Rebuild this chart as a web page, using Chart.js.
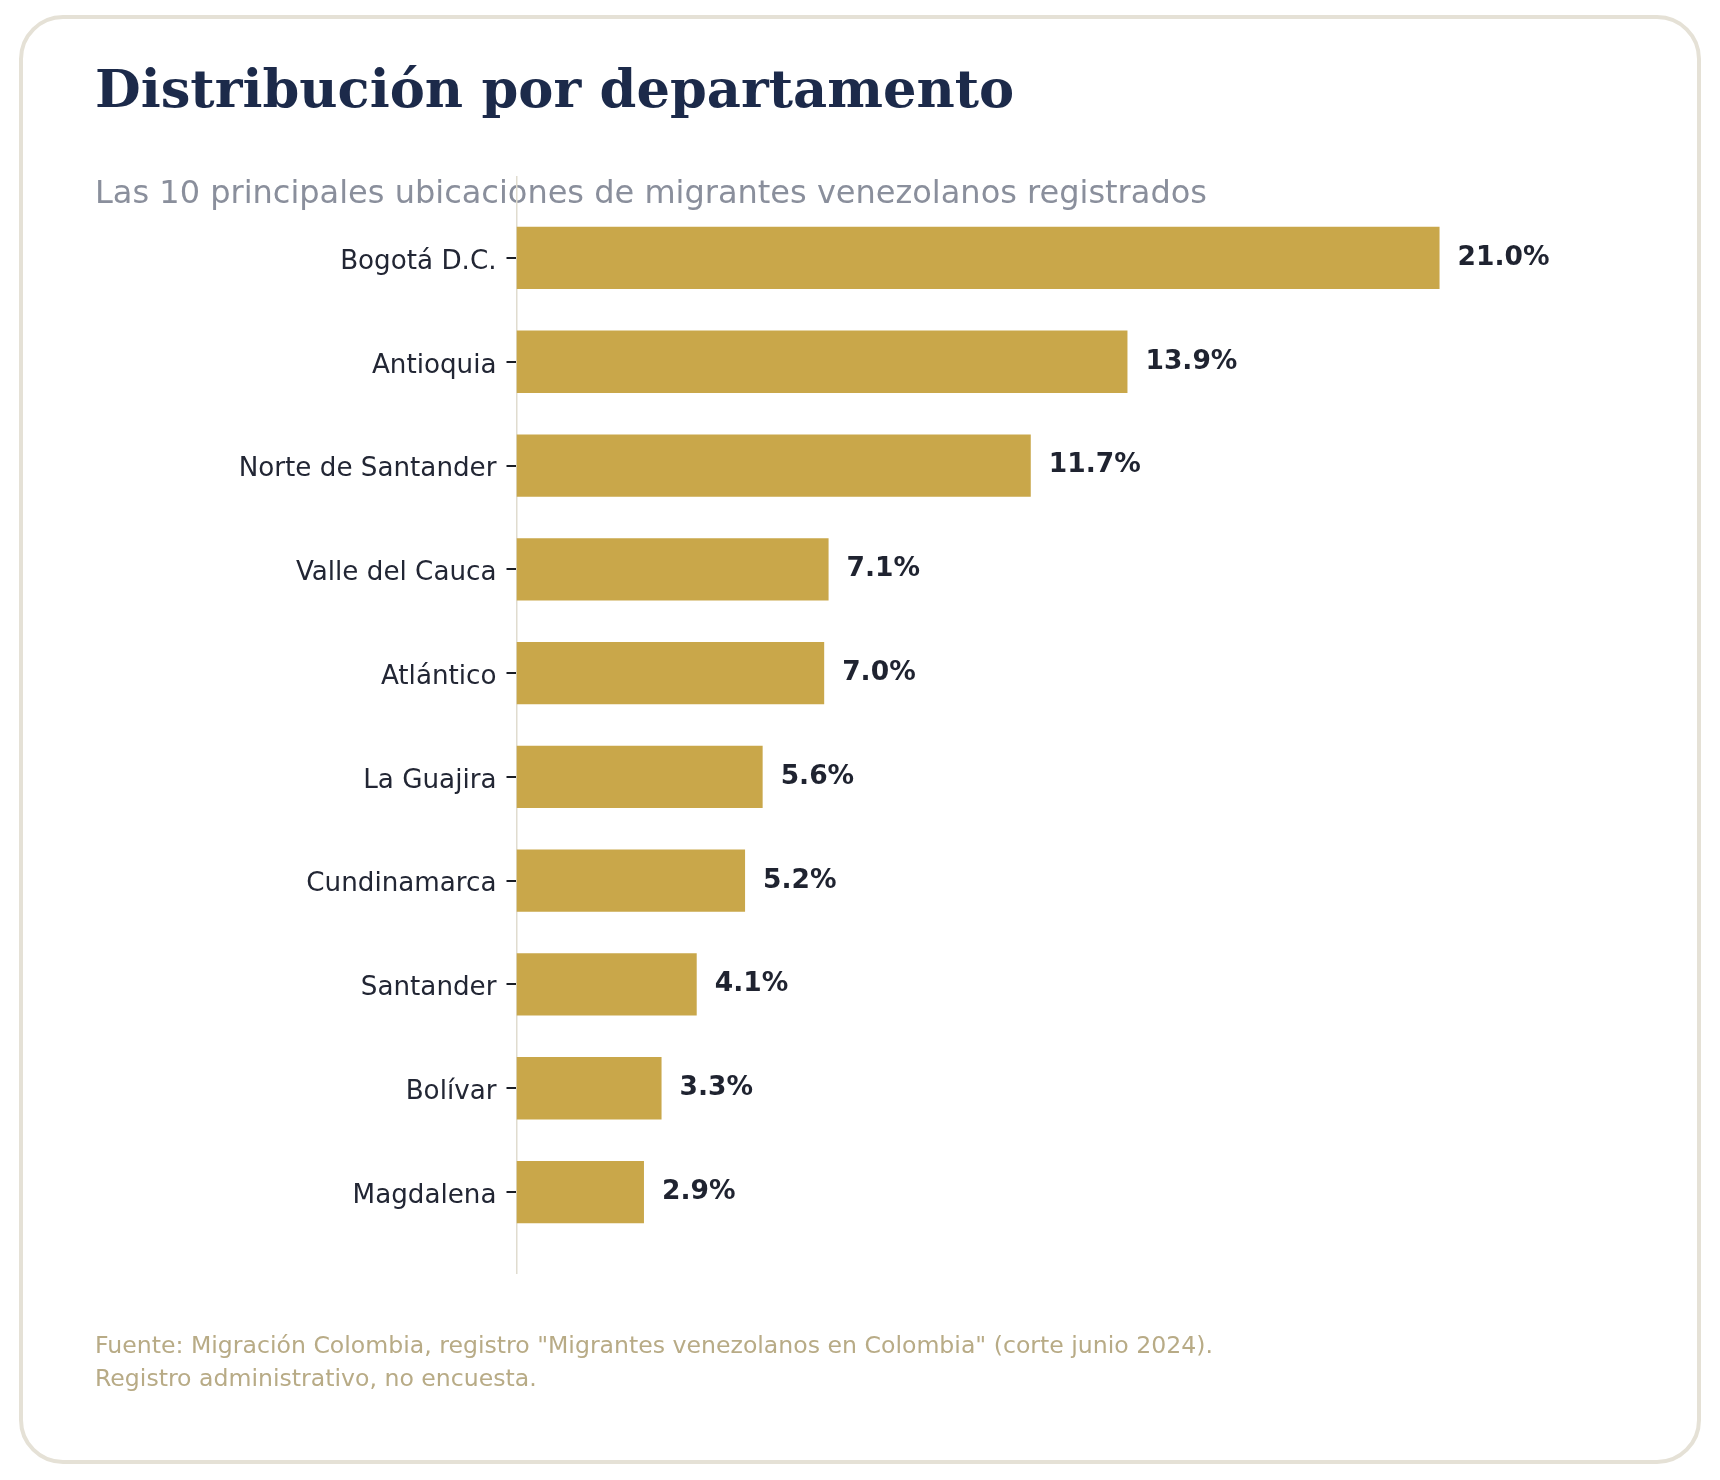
<!DOCTYPE html>
<html>
<head>
<meta charset="utf-8">
<script src="https://cdn.jsdelivr.net/npm/chart.js@4.4.1/dist/chart.umd.min.js"></script>
<style>
  html, body { margin: 0; padding: 0; background: #ffffff; }
  #card {
    position: absolute; left: 19px; top: 15px; width: 1674px; height: 1441px;
    border: 4px solid #e5e1d6; border-radius: 44px; background: #ffffff;
  }
  #chart { position: absolute; left: 0; top: 0; }
</style>
</head>
<body>
<div id="card"></div>
<canvas id="chart" width="1720" height="1480"></canvas>
<script>
const departamentos = ['Bogotá D.C.', 'Antioquia', 'Norte de Santander', 'Valle del Cauca', 'Atlántico',
  'La Guajira', 'Cundinamarca', 'Santander', 'Bolívar', 'Magdalena'];
const porcentajes = [21.0, 13.9, 11.7, 7.1, 7.0, 5.6, 5.2, 4.1, 3.3, 2.9];

const titulo = 'Distribución por departamento';
const subtitulo = 'Las 10 principales ubicaciones de migrantes venezolanos registrados';
const fuente = ['Fuente: Migración Colombia, registro "Migrantes venezolanos en Colombia" (corte junio 2024).',
  'Registro administrativo, no encuesta.'];

document.addEventListener('DOMContentLoaded', function() {
    const ctx = document.getElementById('chart').getContext('2d');

    // header and footer text, drawn before the axis so the axis line sits over the subtitle
    const textos = {
        id: 'textos',
        beforeDraw(chart) {
            const c = chart.ctx;
            c.save();
            c.textBaseline = 'alphabetic';
            c.textAlign = 'left';
            c.fillStyle = '#1c2a4a';
            c.font = 'bold 52.7px "DejaVu Serif"';
            c.fillText(titulo, 95, 107);
            c.fillStyle = '#8a8f9c';
            c.font = '32px "DejaVu Sans"';
            c.fillText(subtitulo, 95, 203);
            c.fillStyle = '#b8ab86';
            c.font = '23.6px "DejaVu Sans"';
            c.fillText(fuente[0], 95, 1353);
            c.fillText(fuente[1], 95, 1386);
            c.restore();
        }
    };

    // value labels at the end of each bar
    const etiquetas = {
        id: 'etiquetas',
        afterDatasetsDraw(chart) {
            const c = chart.ctx;
            const meta = chart.getDatasetMeta(0);
            c.save();
            c.font = 'bold 26.5px "DejaVu Sans"';
            c.fillStyle = '#1f2330';
            c.textAlign = 'left';
            c.textBaseline = 'middle';
            meta.data.forEach(function(bar, i) {
                c.fillText(porcentajes[i].toFixed(1) + '%', bar.x + 18, bar.y);
            });
            c.restore();
        }
    };

    const data = {
        datasets: [{
            data: porcentajes.map((v, i) => ({ x: v, y: i })),
            backgroundColor: '#c9a74a',
            borderWidth: 0,
            barPercentage: 0.6,
            categoryPercentage: 1.0,
        }]
    };

    const config = {
        type: 'bar',
        data: data,
        plugins: [textos, etiquetas],
        options: {
            responsive: false,
            animation: false,
            devicePixelRatio: 1,
            indexAxis: 'y',
            layout: {
                padding: { top: 177, bottom: 207, left: 0, right: 142 }
            },
            scales: {
                x: {
                    type: 'linear',
                    display: false,
                    min: 0,
                    max: 24.15,
                },
                y: {
                    type: 'linear',
                    reverse: true,
                    offset: false,
                    min: -0.78,
                    max: 9.78,
                    afterBuildTicks: function(scale) {
                        scale.ticks = departamentos.map((_, i) => ({ value: i }));
                    },
                    afterFit: function(scale) {
                        scale.width = 516.5;
                    },
                    grid: {
                        offset: false,
                        drawOnChartArea: false,
                        drawTicks: true,
                        tickLength: 10,
                        color: '#1a1d26',
                        lineWidth: 2,
                    },
                    border: {
                        color: '#e0dccf',
                        width: 1.5,
                    },
                    ticks: {
                        autoSkip: false,
                        padding: 10,
                        labelOffset: 4,
                        color: '#222634',
                        font: { family: '"DejaVu Sans"', size: 26.2 },
                        callback: function(value) {
                            return departamentos[value];
                        }
                    }
                }
            },
            plugins: {
                legend: { display: false },
                tooltip: { enabled: false }
            }
        }
    };

    const barChart = new Chart(ctx, config);
});
</script>
</body>
</html>
